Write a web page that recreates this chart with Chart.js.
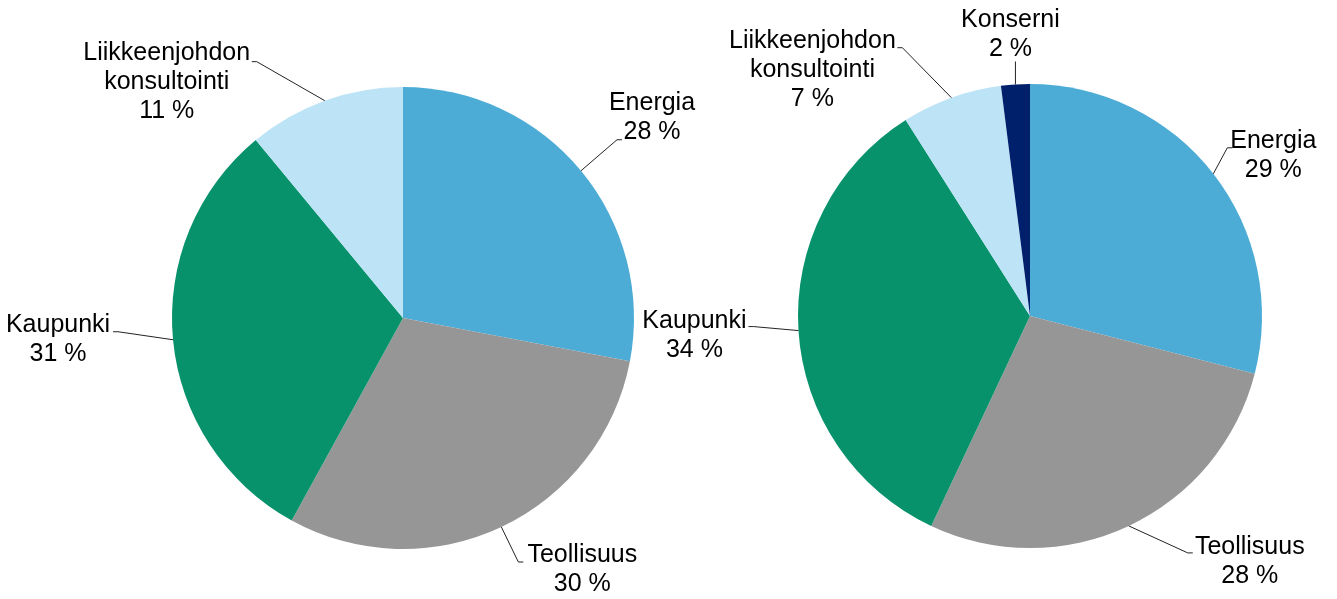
<!DOCTYPE html>
<html>
<head>
<meta charset="utf-8">
<script src="https://cdn.jsdelivr.net/npm/chart.js@4"></script>
<style>
    body { margin: 0; background: #fff; }
    .wrap { position: absolute; top: 0; left: 0; width: 1337px; height: 599px; }
</style>
</head>
<body>
<div class="wrap"><canvas id="pieLeft"></canvas></div>
<div class="wrap"><canvas id="pieRight"></canvas></div>
<script>
// Left pie
const leftCategories = ['Energia', 'Teollisuus', 'Kaupunki', 'Liikkeenjohdon konsultointi'];
const leftValues = [28, 30, 31, 11];

// Right pie
const rightCategories = ['Energia', 'Teollisuus', 'Kaupunki', 'Liikkeenjohdon konsultointi', 'Konserni'];
const rightValues = [29, 28, 34, 7, 2];

const sliceColors = {
    'Energia': '#4dacd6',
    'Teollisuus': '#969696',
    'Kaupunki': '#07926b',
    'Liikkeenjohdon konsultointi': '#bde3f6',
    'Konserni': '#00206b'
};

// label placement, relative to the slice's outer edge midpoint: elbow of the leader, tick direction, text block centre
const leftLabelPos = [
    { elbow: [36, -31], tick: 5, text: [71, -53] },
    { elbow: [17, 35], tick: 5, text: [81, 43] },
    { elbow: [-55, -8], tick: -5, text: [-115, 0] },
    { elbow: [-68, -39], tick: -5, text: [-158, -19] }
];
const rightLabelPos = [
    { elbow: [14, -26], tick: 5, text: [60, -18] },
    { elbow: [59, 27], tick: 5, text: [121, 36] },
    { elbow: [-45, -4], tick: -5, text: [-104, 5] },
    { elbow: [-49, -50], tick: -5, text: [-139, -28] },
    { elbow: [0, -23], tick: 0, text: [-5, -50] }
];

const leaderLabels = {
    id: 'leaderLabels',
    afterDraw(chart, args, opts) {
        const ctx = chart.ctx;
        const meta = chart.getDatasetMeta(0);
        const data = chart.data.datasets[0].data;
        const total = data.reduce((a, b) => a + b, 0);
        ctx.save();
        ctx.font = '25px "Liberation Sans", Arial, sans-serif';
        ctx.textAlign = 'center';
        ctx.textBaseline = 'middle';
        ctx.fillStyle = '#000';
        ctx.strokeStyle = '#222';
        ctx.lineWidth = 1;
        meta.data.forEach((arc, i) => {
            const p = opts.pos[i];
            const mid = (arc.startAngle + arc.endAngle) / 2;
            const ex = arc.x + Math.cos(mid) * arc.outerRadius;
            const ey = arc.y + Math.sin(mid) * arc.outerRadius;
            const bx = ex + p.elbow[0], by = ey + p.elbow[1];
            ctx.beginPath();
            ctx.moveTo(ex, ey);
            ctx.lineTo(bx, by);
            if (p.tick) ctx.lineTo(bx + p.tick, by);
            ctx.stroke();

            const name = chart.data.labels[i];
            const lines = name.indexOf(' ') > 0 ? name.split(' ') : [name];
            lines.push(Math.round(data[i] / total * 100) + ' %');
            const lh = 29;
            const cx = ex + p.text[0];
            const cy = ey + p.text[1] - (lines.length - 1) * lh / 2;
            lines.forEach((t, j) => ctx.fillText(t, cx, cy + j * lh));
        });
        ctx.restore();
    }
};

function makePie(id, categories, values, padding, pos) {
    return new Chart(document.getElementById(id).getContext('2d'), {
        type: 'pie',
        data: {
            labels: categories,
            datasets: [{
                data: values,
                backgroundColor: categories.map(c => sliceColors[c]),
                borderWidth: 0
            }]
        },
        options: {
            responsive: true,
            maintainAspectRatio: false,
            animation: false,
            layout: { padding: padding },
            plugins: {
                legend: { display: false },
                tooltip: { enabled: false },
                leaderLabels: { pos: pos }
            }
        },
        plugins: [leaderLabels]
    });
}

const leftChart = makePie('pieLeft', leftCategories, leftValues,
    { left: 172, right: 703, top: 87, bottom: 50 }, leftLabelPos);
const rightChart = makePie('pieRight', rightCategories, rightValues,
    { left: 798, right: 75, top: 84, bottom: 51 }, rightLabelPos);
</script>
</body>
</html>
